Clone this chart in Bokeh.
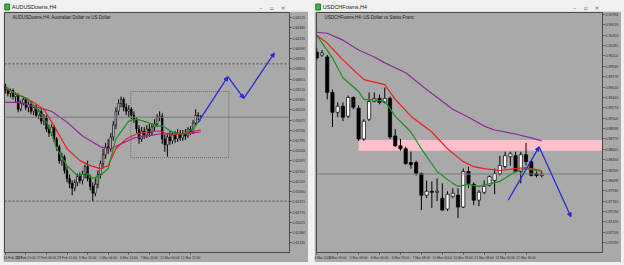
from bokeh.plotting import figure
from bokeh.models import (Range1d, FixedTicker, PrintfTickFormatter, Label, Arrow,
                          NormalHead, ColumnDataSource, Span)
from bokeh.layouts import row, column
from bokeh.embed import file_html
from bokeh.resources import INLINE
from bokeh.core.properties import value

FONT = "Liberation Sans"
BG = "#a9a9a9"
CHROME = "#f0f0f0"

# ---------------- AUDUSD H4 (left) ----------------
aud_open = [0.63563,0.63507,0.63451,0.63493,0.63409,0.63423,0.63227,0.63311,0.63367,0.63255,
            0.63297,0.63199,0.63255,0.63143,0.63199,0.63059,0.63115,0.62947,0.62891,0.62975,
            0.62807,0.62695,0.62499,0.62555,0.62359,0.62247,0.62177,0.62107,0.62191,0.62275,
            0.62219,0.62303,0.62415,0.62247,0.62135,0.62037,0.62163,0.62303,0.62457,0.62583,
            0.62695,0.62667,0.62835,0.63003,0.63199,0.63311,0.63367,0.63255,0.63199,0.63227,
            0.63143,0.63087,0.62947,0.62807,0.62919,0.62863,0.62947,0.62891,0.62975,0.63017,
            0.63115,0.63129,0.62807,0.62723,0.62835,0.62779,0.62863,0.62807,0.62891,0.62821,
            0.62877,0.62849,0.62947,0.62905,0.63031,0.63143,0.63129]
aud_high = [0.63591,0.63535,0.63521,0.63521,0.63465,0.63451,0.63353,0.63409,0.63395,0.63339,
            0.63325,0.63283,0.63297,0.63227,0.63227,0.63157,0.63143,0.63003,0.63017,0.63003,
            0.62835,0.62723,0.62611,0.62583,0.62415,0.62303,0.62219,0.62233,0.62317,0.62331,
            0.62359,0.62443,0.62499,0.62303,0.62191,0.62247,0.62359,0.62499,0.62667,0.62751,
            0.62807,0.62891,0.63059,0.63255,0.63367,0.63409,0.63395,0.63311,0.63283,0.63255,
            0.63199,0.63115,0.63003,0.62975,0.62975,0.63003,0.63017,0.63031,0.63087,0.63157,
            0.63199,0.63171,0.62863,0.62891,0.62919,0.62905,0.62919,0.62947,0.62933,0.62933,
            0.62947,0.62975,0.62989,0.63073,0.63227,0.63185,0.63143]
aud_low = [0.63451,0.63409,0.63395,0.63367,0.63325,0.63185,0.63199,0.63283,0.63213,0.63185,
           0.63157,0.63143,0.63115,0.63087,0.63017,0.63003,0.62905,0.62835,0.62849,0.62765,
           0.62639,0.62457,0.62429,0.62317,0.62191,0.62107,0.62009,0.62065,0.62135,0.62177,
           0.62163,0.62247,0.62205,0.62079,0.61925,0.61995,0.62107,0.62247,0.62387,0.62527,
           0.62597,0.62625,0.62779,0.62947,0.63143,0.63255,0.63199,0.63143,0.63115,0.63087,
           0.63031,0.62891,0.62737,0.62765,0.62807,0.62821,0.62835,0.62849,0.62919,0.62975,
           0.63059,0.62737,0.62625,0.62555,0.62723,0.62737,0.62751,0.62765,0.62779,0.62779,
           0.62793,0.62821,0.62863,0.62877,0.63003,0.63073,0.63101]
aud_close = [0.63507,0.63451,0.63493,0.63409,0.63437,0.63227,0.63311,0.63367,0.63255,0.63297,
             0.63199,0.63255,0.63143,0.63199,0.63059,0.63115,0.62947,0.62891,0.62975,0.62807,
             0.62695,0.62499,0.62555,0.62359,0.62247,0.62177,0.62107,0.62191,0.62275,0.62219,
             0.62303,0.62415,0.62247,0.62135,0.62037,0.62163,0.62303,0.62457,0.62583,0.62695,
             0.62667,0.62835,0.63003,0.63199,0.63311,0.63367,0.63255,0.63199,0.63227,0.63143,
             0.63087,0.62947,0.62807,0.62919,0.62863,0.62947,0.62891,0.62975,0.63017,0.63115,
             0.63129,0.62807,0.62723,0.62835,0.62779,0.62863,0.62807,0.62891,0.62821,0.62877,
             0.62849,0.62947,0.62905,0.63031,0.63143,0.63129,0.63115]

aud_fast_bar = [0,3,9,13,17,20,24,28,32,34,37,40,43,48,51,55,59,61,65,69,73,75,76]
aud_fast = [0.63549,0.63465,0.63367,0.63199,0.62989,0.62667,0.62429,0.62289,0.62317,0.62247,
            0.62289,0.62387,0.62807,0.63059,0.63087,0.63045,0.62989,0.62989,0.62905,0.62877,
            0.62947,0.63045,0.63073]
aud_mid_bar = [0,5,11,15,19,24,29,33,37,40,43,47,51,55,60,63,69,74,76]
aud_mid = [0.63521,0.63437,0.63325,0.63227,0.62989,0.62667,0.62499,0.62429,0.62387,0.62429,
           0.62667,0.62807,0.62877,0.62905,0.62919,0.62877,0.62877,0.62919,0.62933]
aud_slow_bar = [0,6,11,18,24,30,37,41,45,50,55,60,69,76]
aud_slow = [0.63325,0.63325,0.63269,0.63199,0.63045,0.62849,0.62695,0.62667,0.62737,0.62821,
            0.62849,0.62877,0.62877,0.62905]

aud_path_bar = [75, 86.5, 92.7, 104.6]
aud_path_price = [0.63045, 0.63689, 0.63381, 0.64025]
aud_box_bar = [48.8, 86.9]
aud_box_price = [0.62541, 0.63479]
aud_levels = [0.63871, 0.61925]

aud_price_ticks = [0.64525,0.64380,0.64235,0.64090,0.63945,0.63800,0.63655,0.63510,0.63365,
                   0.63220,0.63075,0.62930,0.62785,0.62640,0.62495,0.62350,0.62205,0.62060,
                   0.61915,0.61770,0.61625,0.61480,0.61335]
aud_time_ticks = [0, 8, 16, 24, 32, 40, 48, 56, 64, 72]
aud_time_labels = ["24 Feb 2025", "25 Feb 20:00", "27 Feb 04:00", "28 Feb 12:00", "3 Mar 20:00",
                   "5 Mar 04:00", "6 Mar 12:00", "7 Mar 20:00", "11 Mar 04:00", "12 Mar 12:00"]

# ---------------- USDCHF H4 (right) ----------------
chf_open = [0.90178,0.90130,0.90098,0.89522,0.89202,0.89298,0.89138,0.89442,0.89266,0.88770,
            0.89090,0.89378,0.89426,0.89362,0.89426,0.88818,0.88658,0.88610,0.88386,0.88386,
            0.88210,0.87858,0.87922,0.87906,0.87810,0.87634,0.87842,0.87858,0.87666,0.88242,
            0.88034,0.87778,0.87906,0.88018,0.88098,0.88210,0.88322,0.88482,0.88498,0.88242,
            0.88514,0.88402,0.88210,0.88178]
chf_high = [0.90242,0.90210,0.90130,0.89570,0.89362,0.89362,0.89474,0.89458,0.89314,0.89090,
            0.89522,0.89522,0.89490,0.89602,0.89458,0.88930,0.88770,0.88642,0.88562,0.88418,
            0.88226,0.88098,0.88082,0.88130,0.88050,0.87922,0.87970,0.87970,0.88290,0.88322,
            0.88066,0.87938,0.88098,0.88178,0.88290,0.88498,0.88562,0.88562,0.88562,0.88562,
            0.88706,0.88418,0.88242,0.88242]
chf_low = [0.90050,0.90098,0.89410,0.88962,0.89122,0.89058,0.89106,0.89250,0.88738,0.88738,
           0.89058,0.89362,0.89330,0.89346,0.88770,0.88642,0.88578,0.88354,0.88290,0.88178,
           0.87618,0.87810,0.87650,0.87762,0.87602,0.87602,0.87810,0.87490,0.87650,0.87970,
           0.87698,0.87682,0.87874,0.88002,0.87874,0.88178,0.88290,0.88338,0.88226,0.88050,
           0.88338,0.88162,0.88146,0.88146]
chf_close = [0.90082,0.90162,0.89522,0.89202,0.89298,0.89122,0.89442,0.89282,0.88770,0.89058,
             0.89378,0.89426,0.89362,0.89426,0.88802,0.88658,0.88610,0.88370,0.88354,0.88210,
             0.87858,0.87922,0.87906,0.87922,0.87618,0.87874,0.87890,0.87666,0.88242,0.88050,
             0.87778,0.87906,0.88002,0.88162,0.88210,0.88338,0.88498,0.88530,0.88242,0.88514,
             0.88402,0.88178,0.88178,0.88202]

chf_fast_bar = [0,3,5,8,9,12,13,15,18,20,23,26,27,29,31,35,38,40,43]
chf_fast = [0.90450,0.90082,0.89762,0.89538,0.89410,0.89394,0.89378,0.89138,0.88882,0.88610,
            0.88242,0.88050,0.88002,0.88034,0.88002,0.88082,0.88242,0.88290,0.88242]
chf_mid_bar = [0,2,5,9,13,15,18,22,25,28,30,32,35,38,40,43]
chf_mid = [0.90450,0.90322,0.90050,0.89730,0.89650,0.89410,0.89138,0.88882,0.88610,0.88402,
           0.88322,0.88290,0.88258,0.88290,0.88306,0.88258]
chf_slow_bar = [0,2,5,8,11,13,17,21,26,29,32,34,38,41,43]
chf_slow = [0.90498,0.90482,0.90370,0.90210,0.90098,0.90002,0.89842,0.89570,0.89250,0.89122,
            0.88978,0.88914,0.88850,0.88786,0.88738]

chf_path_bar = [36.6, 42.5, 48.6]
chf_path_price = [0.87778, 0.88642, 0.87506]
chf_zone_start = 8
chf_zone_price = [0.88578, 0.88754]

chf_price_ticks = [0.90786,0.90618,0.90450,0.90282,0.90114,0.89946,0.89778,0.89610,0.89442,
                   0.89274,0.89106,0.88938,0.88770,0.88602,0.88434,0.88266,0.88098,0.87930,
                   0.87762,0.87594,0.87426,0.87258,0.87090]
chf_time_ticks = [0, 4, 8, 12, 16, 20, 24, 28, 32, 36, 40]
chf_time_labels = ["4 Mar 2025", "4 Mar 16:00", "5 Mar 08:00", "6 Mar 00:00", "6 Mar 16:00",
                   "7 Mar 08:00", "10 Mar 00:00", "10 Mar 16:00", "11 Mar 08:00", "12 Mar 00:00",
                   "12 Mar 16:00"]

BLUE = "#2a2ad8"
GREEN = "#1f8f1f"
RED = "#f01c1c"
PURPLE = "#8e2a96"


def candles(p, o, h, l, c, width):
    x = list(range(len(o)))
    top = [max(a, b) for a, b in zip(o, c)]
    bot = [min(a, b) for a, b in zip(o, c)]
    fill = ["white" if cc >= oo else "black" for oo, cc in zip(o, c)]
    src = ColumnDataSource(dict(x=x, h=h, l=l, top=top, bot=bot, fill=fill))
    p.segment(x0="x", y0="h", x1="x", y1="l", source=src, line_color="black", line_width=1)
    p.vbar(x="x", width=width, top="top", bottom="bot", fill_color="fill",
           line_color="black", line_width=0.7, source=src)


def chart(width, xr, yr, mbl, mbr, xticks, xlabels, yticks, caption):
    p = figure(width=width, height=251, x_range=xr, y_range=yr, toolbar_location=None,
               output_backend="svg", y_axis_location="right",
               min_border_left=mbl, min_border_right=mbr, min_border_top=1, min_border_bottom=7)
    p.background_fill_color = BG
    p.border_fill_color = BG
    p.outline_line_color = "#4a4a4a"
    p.grid.visible = False
    p.xaxis.ticker = FixedTicker(ticks=xticks)
    p.xaxis.major_label_overrides = {t: s for t, s in zip(xticks, xlabels)}
    p.yaxis.ticker = FixedTicker(ticks=yticks)
    p.yaxis.formatter = PrintfTickFormatter(format="%.5f")
    for ax in (p.xaxis[0], p.yaxis[0]):
        ax.axis_line_color = "#4a4a4a"
        ax.major_tick_line_color = "#4a4a4a"
        ax.major_tick_out = 2
        ax.major_tick_in = 0
        ax.minor_tick_line_color = None
        ax.major_label_text_font = FONT
        ax.major_label_text_color = "#2a2a2a"
        ax.major_label_standoff = 1
    p.yaxis.major_label_text_font_size = "3.5px"
    p.xaxis.major_label_text_font_size = "3.3px"
    p.xaxis.major_label_text_align = "left"
    p.add_layout(Label(x=xr.start, y=yr.end, x_offset=8, y_offset=-2, text=caption,
                       text_font=FONT, text_font_size="4.5px", text_color="#1a1a1a",
                       text_baseline="top"))
    return p


def titlebar(width, text):
    t = figure(width=width, height=11, x_range=Range1d(0, width), y_range=Range1d(0, 11),
               toolbar_location=None, output_backend="svg", x_axis_location=None,
               y_axis_location=None, min_border=0)
    t.background_fill_color = CHROME
    t.border_fill_color = CHROME
    t.outline_line_color = None
    t.grid.visible = False
    t.rect(x=[6], y=[5.5], width=5, height=6, fill_color="#45b24a", line_color="#1e7a2a")
    t.text(x=[11], y=[5.5], text=[text], text_font=value(FONT), text_font_size="5.5px",
           text_baseline="middle", text_color="#222222")
    t.text(x=[width - 33, width - 21, width - 9], y=[5.5, 5.5, 5.5], text=["–", "▫", "×"],
           text_font=value("DejaVu Sans"), text_font_size="6px", text_baseline="middle",
           text_align="center", text_color="#666666")
    return t


# ---- left chart ----
p1 = chart(305, Range1d(-0.3, 110.47), Range1d(0.61197, 0.64599), 1, 16,
           aud_time_ticks, aud_time_labels, aud_price_ticks,
           "AUDUSDowns,H4: Australian Dollar vs US Dollar")
for lv in aud_levels:
    p1.add_layout(Span(location=lv, dimension="width", line_color="#555555",
                       line_dash="2 2", line_width=1))
p1.add_layout(Span(location=aud_close[-1], dimension="width", line_color="#7c7c7c", line_width=1))
p1.quad(left=[aud_box_bar[0]], right=[aud_box_bar[1]], bottom=[aud_box_price[0]],
        top=[aud_box_price[1]], fill_color=None, line_color="#6e6e6e", line_dash="1 1", line_width=1)
candles(p1, aud_open, aud_high, aud_low, aud_close, 0.6)
p1.line(aud_slow_bar, aud_slow, line_color=PURPLE, line_width=1.2)
p1.line(aud_mid_bar, aud_mid, line_color=RED, line_width=1.2)
p1.line(aud_fast_bar, aud_fast, line_color=GREEN, line_width=1.2)
aud_seg = ColumnDataSource(dict(x0=aud_path_bar[:-1], y0=aud_path_price[:-1],
                                x1=aud_path_bar[1:], y1=aud_path_price[1:]))
p1.add_layout(Arrow(end=NormalHead(size=4, fill_color=BLUE, line_color=BLUE), source=aud_seg,
                    x_start="x0", y_start="y0", x_end="x1", y_end="y1",
                    line_color=BLUE, line_width=1.3))
p1.add_layout(Label(x=p1.x_range.end, y=aud_close[-1], x_offset=1, text="%.5f" % aud_close[-1],
                    text_font=FONT, text_font_size="3.5px", text_baseline="middle",
                    text_color="#222222", background_fill_color="white"))

# ---- right chart ----
p2 = chart(307, Range1d(-0.05, 54.62), Range1d(0.86930, 0.90818), 2, 18,
           chf_time_ticks, chf_time_labels, chf_price_ticks,
           "USDCHFowns,H4: US Dollar vs Swiss Franc")
p2.quad(left=[chf_zone_start], right=[p2.x_range.end], bottom=[chf_zone_price[0]],
        top=[chf_zone_price[1]], fill_color="#ffc0cb", line_color=None)
p2.add_layout(Span(location=chf_close[-1], dimension="width", line_color="#7c7c7c", line_width=1))
candles(p2, chf_open, chf_high, chf_low, chf_close, 0.62)
p2.line(chf_slow_bar, chf_slow, line_color=PURPLE, line_width=1.2)
p2.line(chf_mid_bar, chf_mid, line_color=RED, line_width=1.2)
p2.line(chf_fast_bar, chf_fast, line_color=GREEN, line_width=1.2)
chf_seg = ColumnDataSource(dict(x0=chf_path_bar[:-1], y0=chf_path_price[:-1],
                                x1=chf_path_bar[1:], y1=chf_path_price[1:]))
p2.add_layout(Arrow(end=NormalHead(size=4, fill_color=BLUE, line_color=BLUE), source=chf_seg,
                    x_start="x0", y_start="y0", x_end="x1", y_end="y1",
                    line_color=BLUE, line_width=1.3))
p2.add_layout(Label(x=p2.x_range.end, y=chf_close[-1], x_offset=1, text="%.5f" % chf_close[-1],
                    text_font=FONT, text_font_size="3.5px", text_baseline="middle",
                    text_color="#222222", background_fill_color="white"))

p1.margin = (0, 2, 3, 3)
p2.margin = (0, 3, 3, 4)
tb1 = titlebar(310, "AUDUSDowns,H4")
tb2 = titlebar(314, "USDCHFowns,H4")
layout = row(column(tb1, p1), column(tb2, p2), styles={"background-color": CHROME})

open("out.html", "w").write(file_html(layout, INLINE))
